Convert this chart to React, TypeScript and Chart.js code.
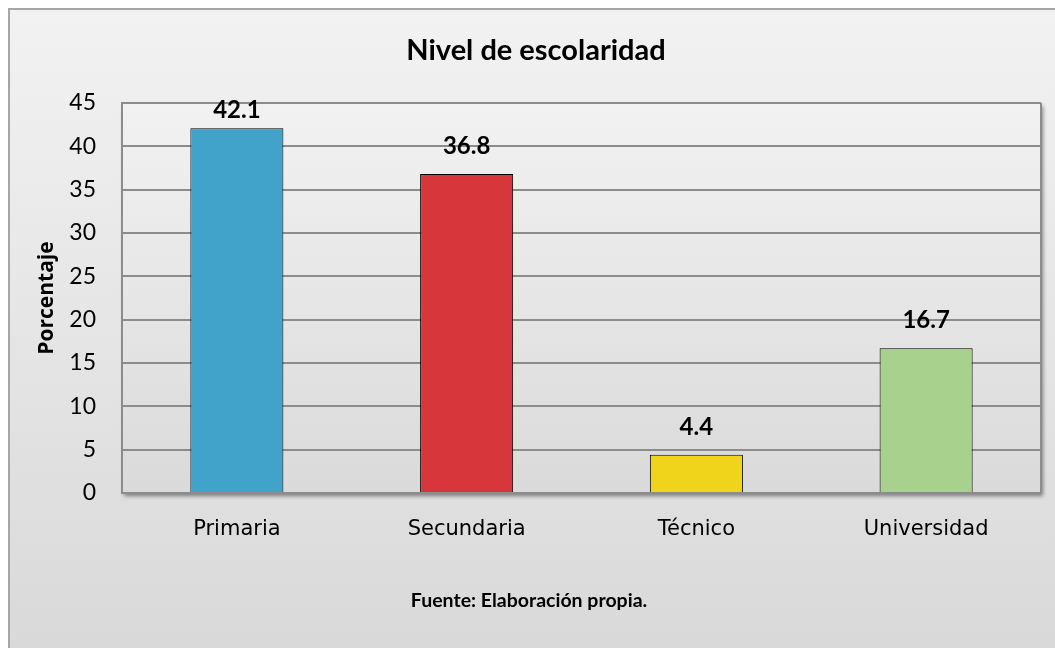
import React, { useEffect, useRef } from "react";
import { Chart, registerables } from "chart.js";

Chart.register(...registerables);

const categories = ["Primaria", "Secundaria", "Técnico", "Universidad"];
const values = [42.1, 36.8, 4.4, 16.7];
const barColors = ["#41a3c9", "#d7373b", "#f0d41c", "#a9d18e"];
const yTicks = [0, 5, 10, 15, 20, 25, 30, 35, 40, 45];
const titleText = "Nivel de escolaridad";
const yTitleText = "Porcentaje";
const footerText = "Fuente: Elaboración propia.";

const W = 1055;
const H = 648;

const framePlugin = {
  id: "frame",
  beforeDraw(chart: any) {
    const { ctx, chartArea } = chart;
    ctx.save();
    const g = ctx.createLinearGradient(0, 9, 0, H);
    g.addColorStop(0, "#f2f2f2");
    g.addColorStop(1, "#d9d9d9");
    ctx.fillStyle = g;
    ctx.fillRect(9, 9, W, H);
    ctx.strokeStyle = "#a6a6a6";
    ctx.lineWidth = 2;
    ctx.strokeRect(9, 9, W + 20, H + 20);
    const { left, top, right, bottom } = chartArea;
    const pg = ctx.createLinearGradient(0, top, 0, bottom);
    pg.addColorStop(0, "#f2f2f2");
    pg.addColorStop(1, "#dadada");
    ctx.shadowColor = "rgba(0,0,0,0.45)";
    ctx.shadowBlur = 4;
    ctx.shadowOffsetX = 2;
    ctx.shadowOffsetY = 3;
    ctx.fillStyle = pg;
    ctx.fillRect(left, top, right - left, bottom - top);
    ctx.restore();
  },
  afterDraw(chart: any) {
    const { ctx, chartArea } = chart;
    ctx.save();
    ctx.strokeStyle = "#8c8c8c";
    ctx.lineWidth = 2;
    ctx.beginPath();
    ctx.moveTo(chartArea.right, chartArea.top);
    ctx.lineTo(chartArea.right, chartArea.bottom);
    ctx.stroke();
    ctx.fillStyle = "#000";
    ctx.textAlign = "center";
    ctx.textBaseline = "middle";
    ctx.font = "bold 29px Lato";
    ctx.fillText(titleText, 536, 51);
    ctx.font = "bold 19.5px Lato";
    ctx.fillText(footerText, 529, 601);
    ctx.translate(47, 298);
    ctx.rotate(-Math.PI / 2);
    ctx.font = "bold 21px 'Open Sans'";
    ctx.fillText(yTitleText, 0, 0);
    ctx.restore();
  },
};

const labelPlugin = {
  id: "barLabels",
  afterDatasetsDraw(chart: any) {
    const { ctx } = chart;
    const meta = chart.getDatasetMeta(0);
    ctx.save();
    ctx.fillStyle = "#000";
    ctx.font = "bold 24px Lato";
    ctx.textAlign = "center";
    ctx.textBaseline = "middle";
    meta.data.forEach((bar: any, i: number) => {
      const v = chart.data.datasets[0].data[i] as number;
      const y = Math.max(bar.y - 28, chart.chartArea.top + 7);
      ctx.fillText(v.toFixed(1), bar.x, y);
    });
    ctx.restore();
  },
};

export default function App() {
  const ref = useRef<HTMLCanvasElement>(null);
  useEffect(() => {
    document.body.style.margin = "0";
    const c = ref.current!;
    const chart = new Chart(c, {
      type: "bar",
      data: {
        labels: categories,
        datasets: [
          {
            data: values,
            backgroundColor: barColors,
            borderColor: "#000",
            borderWidth: 1,
            barPercentage: 0.405,
            categoryPercentage: 1,
          },
        ],
      },
      options: {
        animation: false,
        responsive: false,
        layout: { padding: { left: 0, top: 103, right: 14, bottom: 0 } },
        plugins: {
          legend: { display: false },
          tooltip: { enabled: false },
          title: { display: false },
        },
        scales: {
          x: {
            grid: { display: false, drawTicks: false },
            border: { display: false },
            ticks: {
              color: "#000",
              font: { family: "DejaVu Sans", size: 21 },
              padding: 24,
            },
            afterFit(s: any) {
              s.height = 155;
            },
          },
          y: {
            min: 0,
            max: 45,
            afterBuildTicks(s: any) {
              s.ticks = yTicks.map((v) => ({ value: v }));
            },
            grid: { color: "#8c8c8c", lineWidth: 2, drawTicks: false },
            border: { display: true, color: "#8c8c8c", width: 2 },
            ticks: {
              color: "#000",
              font: { family: "Lato", size: 23 },
              padding: 26,
            },
            afterFit(s: any) {
              s.width = 122;
            },
          },
        },
      },
      plugins: [framePlugin, labelPlugin],
    });
    return () => chart.destroy();
  }, []);
  return <canvas ref={ref} width={W} height={H} style={{ display: "block" }} />;
}
